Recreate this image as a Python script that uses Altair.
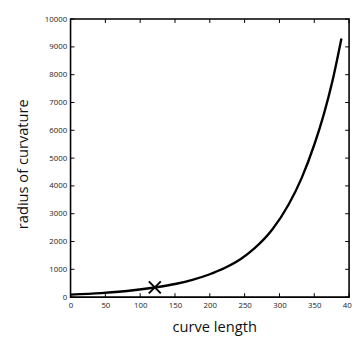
import altair as alt
import pandas as pd

# curve samples
s_vals = [0, 44, 81, 121, 152, 175, 198, 222, 245, 264, 290, 313, 332, 350, 364, 376, 389]
r_vals = [90, 145, 220, 345, 480, 620, 805, 1055, 1380, 1750, 2440, 3320, 4290, 5480, 6600, 7760, 9300]

marker_s = [121]
marker_r = [350]

x_ticks = [0, 50, 100, 150, 200, 250, 300, 350, 400]
y_ticks = [0, 1000, 2000, 3000, 4000, 5000, 6000, 7000, 8000, 9000, 10000]

W, H = 285, 284.5
FONT = "Open Sans"

curve = pd.DataFrame({"s": s_vals, "r": r_vals})
mark = pd.DataFrame({"s": marker_s, "r": marker_r})
xt = pd.DataFrame({"v": x_ticks})
yt = pd.DataFrame({"v": y_ticks})

xscale = alt.Scale(domain=[0, 400], nice=False, zero=False)
yscale = alt.Scale(domain=[0, 10000], nice=False, zero=False)

xaxis = alt.Axis(values=x_ticks, format="d", title="curve length", grid=False, tickSize=0,
                 labelPadding=5, labelFontSize=8, labelFont=FONT, labelColor="#222",
                 titleFont=FONT, titleFontSize=15, titleFontWeight="normal", titleColor="#111",
                 titleX=147, titleY=35, titleBaseline="alphabetic",
                 domain=False, labelFlush=False, labelOverlap=False)
yaxis = alt.Axis(values=y_ticks, format="d", title="radius of curvature", grid=False, tickSize=0,
                 labelPadding=4, labelFontSize=8, labelFont=FONT, labelColor="#222",
                 titleFont=FONT, titleFontSize=15, titleFontWeight="normal", titleColor="#111",
                 titleX=-44, titleY=148, titleBaseline="alphabetic", titleAlign="center",
                 domain=False, labelFlush=False, labelOverlap=False)

line = alt.Chart(curve).mark_line(color="black", strokeWidth=2.4, interpolate="monotone").encode(
    x=alt.X("s:Q", scale=xscale, axis=xaxis),
    y=alt.Y("r:Q", scale=yscale, axis=yaxis),
)

cross = alt.Chart(mark).mark_point(
    shape="M-1,-1L1,1M-1,1L1,-1", filled=False, color="black", strokeWidth=2, size=150, opacity=1
).encode(x=alt.X("s:Q", scale=xscale, axis=xaxis), y=alt.Y("r:Q", scale=yscale, axis=yaxis))

TL = 4
left_t = alt.Chart(yt).mark_rule(color="black", strokeWidth=1).encode(
    y=alt.Y("v:Q", scale=yscale, axis=yaxis), x=alt.value(0), x2=alt.value(TL))
right_t = alt.Chart(yt).mark_rule(color="black", strokeWidth=1).encode(
    y=alt.Y("v:Q", scale=yscale, axis=yaxis), x=alt.value(W - TL), x2=alt.value(W))
bottom_t = alt.Chart(xt).mark_rule(color="black", strokeWidth=1).encode(
    x=alt.X("v:Q", scale=xscale, axis=xaxis), y=alt.value(H - TL), y2=alt.value(H))
top_t = alt.Chart(xt).mark_rule(color="black", strokeWidth=1).encode(
    x=alt.X("v:Q", scale=xscale, axis=xaxis), y=alt.value(0), y2=alt.value(TL))

chart = alt.layer(line, cross, left_t, right_t, bottom_t, top_t).properties(
    width=W, height=H,
    autosize=alt.AutoSizeParams(type="none"),
    padding={"left": 64, "top": 7.5, "right": 3, "bottom": 38},
).configure(
    background="white",
    view=alt.ViewConfig(stroke="#000000", strokeWidth=1.6, strokeOpacity=1),
)

chart.save("out.html", embed_options={"renderer": "svg", "actions": False})
